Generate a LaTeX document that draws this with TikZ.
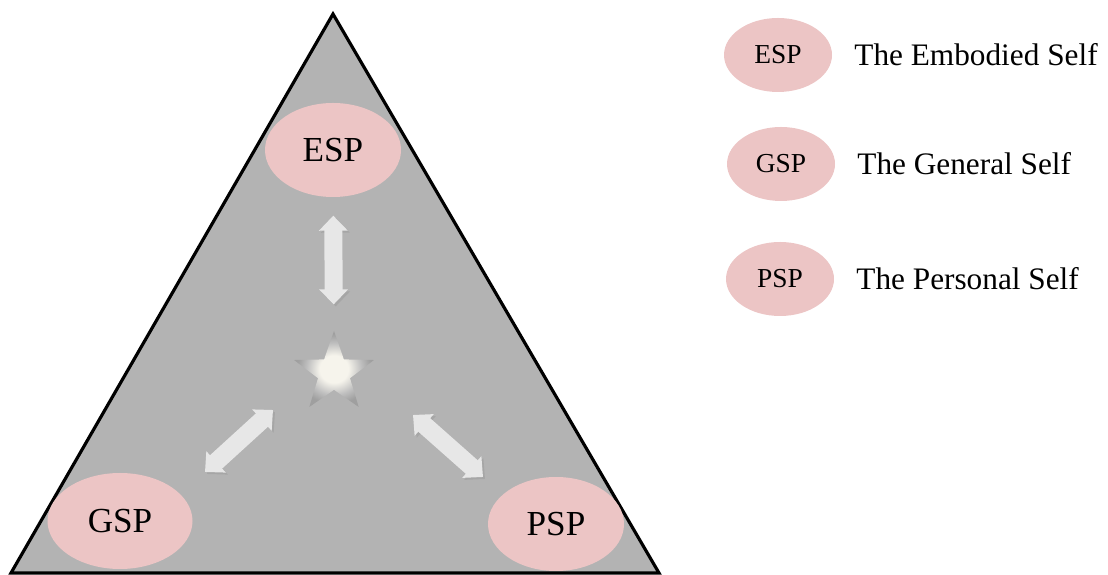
\documentclass[tikz,border=0pt]{standalone}
\usepackage{fontspec}
\setmainfont{Liberation Serif}
\usetikzlibrary{arrows.meta,positioning,shapes.geometric}

\definecolor{selfpink}{RGB}{236,197,197}
\definecolor{trigray}{RGB}{179,179,179}
\definecolor{arrowgray}{RGB}{231,231,231}
\definecolor{starcream}{RGB}{246,244,236}
\pgfdeclareradialshading{starglow}{\pgfpoint{0bp}{0bp}}{color(0bp)=(starcream); color(9bp)=(starcream); color(17bp)=(gray!50); color(23bp)=(gray!75); color(50bp)=(gray!75)}

\begin{document}
\begin{tikzpicture}
  [
  x=0.1mm,y=-0.1mm,
  self/.style={ellipse,fill=selfpink,inner sep=0pt,minimum width=13.6mm,minimum height=9.4mm,font=\fontsize{10}{12}\selectfont},
  key/.style={ellipse,fill=selfpink,inner sep=0pt,minimum width=10.8mm,minimum height=7.4mm,font=\fontsize{7.8}{9}\selectfont},
  keytext/.style={inner sep=0pt,font=\fontsize{8.9}{11}\selectfont},
  link/.style={{Triangle[width=2.8mm,length=1.5mm]}-{Triangle[width=2.8mm,length=1.5mm]},line width=1.8mm,draw=arrowgray,
    preaction={draw=black!35,transform canvas={shift={(0.2mm,-0.2mm)}}}}
  ]
  \useasboundingbox (0,0) rectangle (1108,575);
  % the triangle
  \draw[fill=trigray,line width=0.9pt] (333,14) -- (659,573) -- (11,573) -- cycle;
  \node[self] (esp) at (333,150) {ESP};
  \node[self,minimum width=14.5mm,minimum height=9.6mm] (gsp) at (120,521) {GSP};
  \node[self,minimum height=9.4mm] (psp) at (556,524) {PSP};
  \node[star,star points=5,star point ratio=2.5,minimum size=8.4mm,inner sep=0pt,
    shading=starglow] (centre) at (334,373) {};
  % arrows to the centre
  \draw[link,shorten <=1.8mm,shorten >=2.5mm] (esp) -- (centre);
  \coordinate (gsp end) at (205,472);
  \coordinate (gsp star) at (273,410);
  \coordinate (psp star) at (413,415);
  \coordinate (psp end) at (483,477);
  \draw[link] (gsp end) -- (gsp star);
  \draw[link] (psp star) -- (psp end);
  % key
  \node[key] (esp key) at (778,55) {ESP};
  \node[keytext,right=2.1mm of esp key] (esp text) {The Embodied Self};
  \node[key] (gsp key) at (781,164) {GSP};
  \node[keytext,right=2.1mm of gsp key] (gsp text) {The General Self};
  \node[key] (psp key) at (780,279) {PSP};
  \node[keytext,right=2.1mm of psp key] (psp text) {The Personal Self};
\end{tikzpicture}
\end{document}
